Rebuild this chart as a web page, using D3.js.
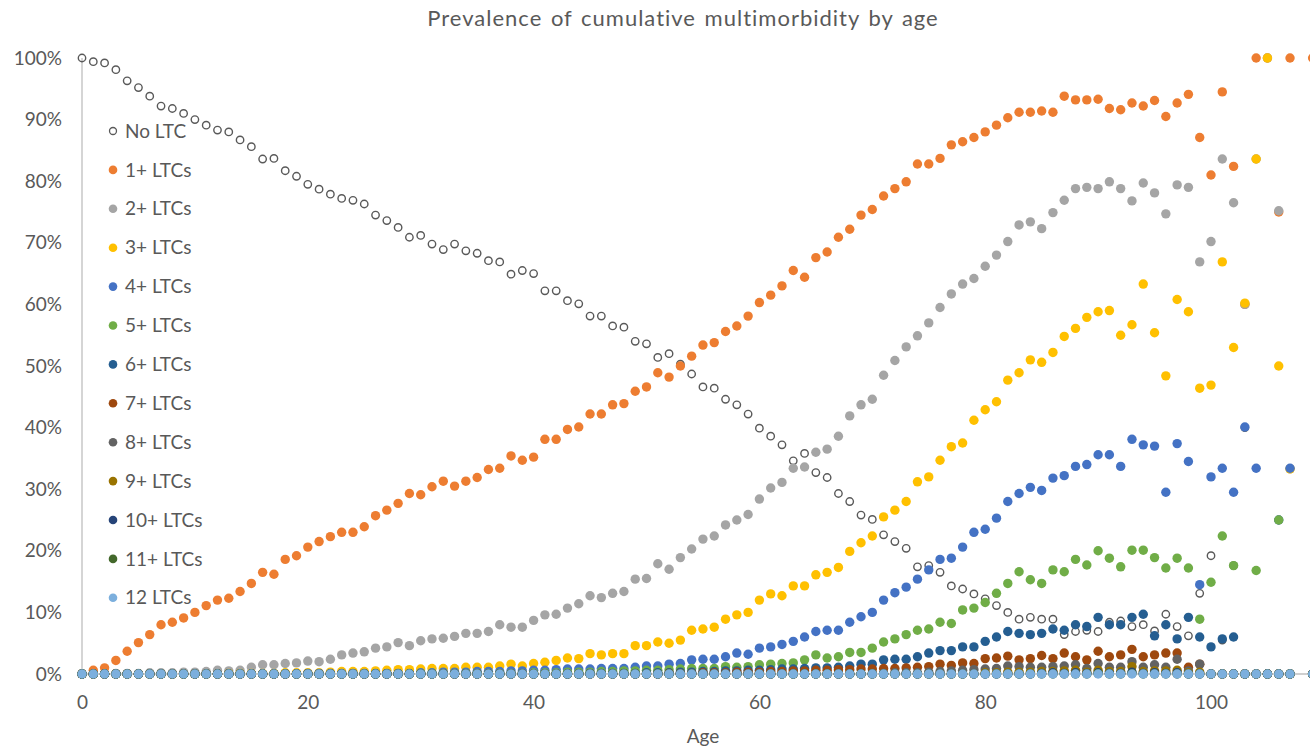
<!DOCTYPE html>
<html>
<head>
<meta charset="utf-8">
<script src="https://cdn.jsdelivr.net/npm/d3@7"></script>
<style>
  body { margin: 0; background: #fff; }
  svg text { font-family: Lato, "Open Sans", sans-serif; fill: #595959; }
</style>
</head>
<body>
<div id="chart"></div>
<script>
// ages on the x axis (no point at 108)
const ages = [
  0, 1, 2, 3, 4, 5, 6, 7, 8, 9,
  10, 11, 12, 13, 14, 15, 16, 17, 18, 19,
  20, 21, 22, 23, 24, 25, 26, 27, 28, 29,
  30, 31, 32, 33, 34, 35, 36, 37, 38, 39,
  40, 41, 42, 43, 44, 45, 46, 47, 48, 49,
  50, 51, 52, 53, 54, 55, 56, 57, 58, 59,
  60, 61, 62, 63, 64, 65, 66, 67, 68, 69,
  70, 71, 72, 73, 74, 75, 76, 77, 78, 79,
  80, 81, 82, 83, 84, 85, 86, 87, 88, 89,
  90, 91, 92, 93, 94, 95, 96, 97, 98, 99,
  100, 101, 102, 103, 104, 105, 106, 107, 109
];

// prevalence in %, one value per age
const noLTC = [
  100, 99.4, 99.2, 98.1, 96.3, 95.2, 93.8, 92.2, 91.8, 91.0,
  90.0, 89.1, 88.3, 88.0, 86.7, 85.6, 83.6, 83.7, 81.7, 80.8,
  79.5, 78.7, 77.9, 77.2, 76.9, 76.3, 74.5, 73.6, 72.5, 70.9,
  71.2, 69.8, 68.9, 69.8, 68.7, 68.3, 67.1, 66.9, 64.9, 65.5,
  65.0, 62.2, 62.2, 60.6, 60.1, 58.1, 58.1, 56.5, 56.3, 54.0,
  53.6, 51.4, 52.0, 50.3, 48.7, 46.6, 46.4, 44.6, 43.7, 42.2,
  39.9, 38.6, 37.2, 34.6, 35.8, 32.7, 31.9, 29.3, 28.0, 25.8,
  25.1, 22.6, 21.5, 20.4, 17.4, 17.6, 16.5, 14.3, 13.8, 13.0,
  12.2, 11.1, 10.0, 8.9, 9.2, 8.9, 8.9, 6.4, 6.9, 7.1,
  6.9, 8.4, 8.6, 7.7, 8.0, 7.0, 9.7, 7.7, 6.2, 13.1,
  19.2, 5.5, 17.6, 40.0, 0, 0, 25.0, 0, 0
];
const ltc1 = [
  0, 0.6, 1.0, 2.2, 3.7, 5.1, 6.4, 8.0, 8.4, 9.1,
  10.0, 11.1, 12.0, 12.3, 13.4, 14.7, 16.5, 16.2, 18.6, 19.2,
  20.6, 21.5, 22.3, 23.0, 23.0, 23.9, 25.7, 26.6, 27.7, 29.3,
  29.1, 30.4, 31.3, 30.5, 31.3, 31.9, 33.2, 33.4, 35.4, 34.7,
  35.2, 38.1, 38.1, 39.7, 40.1, 42.2, 42.2, 43.7, 43.9, 45.9,
  46.6, 48.9, 48.2, 50.0, 51.6, 53.4, 53.8, 55.6, 56.5, 58.1,
  60.3, 61.5, 63.0, 65.5, 64.4, 67.6, 68.5, 70.9, 72.2, 74.5,
  75.4, 77.6, 78.8, 79.9, 82.8, 82.8, 83.7, 85.9, 86.4, 87.1,
  88.0, 89.1, 90.3, 91.2, 91.2, 91.4, 91.2, 93.8, 93.2, 93.2,
  93.3, 91.8, 91.6, 92.7, 92.2, 93.1, 90.5, 92.7, 94.1, 87.1,
  81.0, 94.5, 82.4, 60.0, 100, 100, 75.0, 100, 100
];
const ltc2 = [
  0, 0, 0, 0.1, 0.1, 0.1, 0.2, 0.2, 0.2, 0.3,
  0.3, 0.4, 0.6, 0.5, 0.6, 1.1, 1.5, 1.5, 1.7, 1.8,
  2.1, 2.0, 2.4, 3.1, 3.4, 3.6, 4.2, 4.4, 5.1, 4.6,
  5.4, 5.7, 5.8, 6.1, 6.6, 6.6, 6.9, 8.0, 7.6, 7.6,
  8.7, 9.6, 9.7, 10.7, 11.4, 12.7, 12.4, 13.1, 13.4, 15.4,
  15.5, 17.9, 17.0, 18.9, 20.3, 21.9, 22.4, 24.2, 25.0, 25.9,
  28.4, 30.2, 31.1, 33.4, 33.6, 36.0, 36.5, 38.6, 41.9, 43.7,
  44.6, 48.5, 50.9, 53.1, 54.9, 57.0, 59.5, 61.7, 63.3, 64.2,
  66.2, 68.0, 70.2, 72.9, 73.4, 72.3, 74.9, 76.9, 78.8, 79.0,
  78.8, 79.9, 78.8, 76.8, 79.7, 78.1, 74.7, 79.4, 79.0, 66.9,
  70.2, 83.6, 76.5, 60.0, 83.6, 100, 75.2, 33.3, 0
];
const ltc3 = [
  0, 0, 0, 0, 0, 0, 0, 0, 0, 0,
  0, 0, 0, 0.1, 0.1, 0.1, 0.1, 0.1, 0.2, 0.2,
  0.2, 0.2, 0.3, 0.4, 0.4, 0.4, 0.5, 0.6, 0.7, 0.7,
  0.8, 0.9, 0.9, 0.9, 1.1, 1.1, 1.1, 1.3, 1.6, 1.3,
  1.7, 1.9, 2.2, 2.6, 2.5, 3.3, 3.1, 3.3, 3.3, 4.6,
  4.6, 5.2, 5.0, 5.5, 7.1, 7.3, 7.6, 8.9, 9.6, 10.0,
  12.0, 13.0, 12.7, 14.3, 14.3, 16.1, 16.5, 17.3, 19.9, 21.3,
  22.4, 25.5, 26.6, 28.0, 31.2, 32.0, 34.7, 36.9, 37.5, 41.2,
  42.9, 44.2, 47.7, 48.9, 51.0, 50.6, 52.2, 54.8, 56.1, 57.9,
  58.8, 59.0, 55.0, 56.7, 63.3, 55.4, 48.4, 60.8, 58.8, 46.4,
  46.9, 66.9, 53.0, 60.2, 83.6, 100, 50.0, 33.3, 0
];
const ltc4 = [
  0, 0, 0, 0, 0, 0, 0, 0, 0, 0,
  0, 0, 0, 0, 0, 0, 0, 0, 0, 0,
  0.1, 0.1, 0.1, 0.1, 0.1, 0.1, 0.1, 0.1, 0.1, 0.1,
  0.2, 0.2, 0.3, 0.3, 0.3, 0.4, 0.4, 0.4, 0.5, 0.5,
  0.6, 0.6, 0.7, 0.8, 0.8, 0.8, 0.9, 0.9, 0.9, 1.1,
  1.3, 1.3, 1.6, 1.7, 2.3, 2.4, 2.4, 2.8, 3.4, 3.2,
  4.2, 4.4, 4.8, 5.3, 6.0, 6.9, 7.1, 7.1, 8.4, 9.3,
  10.0, 12.0, 13.2, 14.1, 15.4, 16.9, 18.6, 18.8, 20.6, 23.0,
  23.5, 25.3, 28.0, 29.3, 30.3, 29.8, 31.8, 32.2, 33.7, 34.0,
  35.6, 35.6, 33.7, 38.1, 37.2, 37.0, 29.5, 37.4, 34.5, 14.5,
  32.0, 33.4, 29.5, 40.1, 33.4, 0, 25.0, 33.4, 0
];
const ltc5 = [
  0, 0, 0, 0, 0, 0, 0, 0, 0, 0,
  0, 0, 0, 0, 0, 0, 0, 0, 0, 0,
  0, 0, 0, 0, 0, 0, 0, 0, 0, 0,
  0.1, 0.1, 0.1, 0.1, 0.1, 0.1, 0.1, 0.1, 0.1, 0.1,
  0.2, 0.2, 0.2, 0.3, 0.3, 0.3, 0.4, 0.4, 0.5, 0.5,
  0.6, 0.6, 0.7, 0.8, 0.9, 0.9, 0.9, 1.2, 1.1, 1.2,
  1.5, 1.6, 1.7, 1.8, 2.3, 3.1, 2.6, 2.8, 3.5, 3.5,
  4.2, 5.2, 5.7, 6.4, 7.1, 7.3, 8.4, 8.2, 10.4, 10.7,
  11.6, 13.1, 14.7, 16.6, 15.3, 14.7, 16.9, 16.6, 18.6, 17.7,
  20.0, 18.8, 17.4, 20.1, 20.1, 18.9, 17.2, 18.8, 17.2, 8.9,
  14.9, 22.4, 17.6, 0, 16.8, 0, 25.0, 0, 0
];
const ltc6 = [
  0, 0, 0, 0, 0, 0, 0, 0, 0, 0,
  0, 0, 0, 0, 0, 0, 0, 0, 0, 0,
  0, 0, 0, 0, 0, 0, 0, 0, 0, 0,
  0, 0, 0, 0, 0, 0, 0, 0, 0, 0,
  0, 0, 0, 0, 0, 0.1, 0.1, 0.1, 0.1, 0.1,
  0.2, 0.2, 0.2, 0.3, 0.3, 0.4, 0.4, 0.5, 0.5, 0.6,
  0.6, 0.7, 0.8, 0.8, 0.9, 1.0, 1.0, 1.1, 1.3, 1.6,
  1.6, 2.3, 2.4, 2.4, 2.8, 3.4, 3.8, 3.8, 4.4, 4.4,
  5.3, 6.0, 6.9, 6.6, 6.4, 6.6, 7.3, 7.1, 8.0, 7.7,
  9.2, 8.0, 8.0, 9.2, 9.7, 6.2, 8.0, 5.7, 9.2, 6.0,
  4.4, 5.7, 6.0, 0, 0, 0, 0, 0, 0
];
const ltc7 = [
  0, 0, 0, 0, 0, 0, 0, 0, 0, 0,
  0, 0, 0, 0, 0, 0, 0, 0, 0, 0,
  0, 0, 0, 0, 0, 0, 0, 0, 0, 0,
  0, 0, 0, 0, 0, 0, 0, 0, 0, 0,
  0, 0, 0, 0, 0, 0, 0, 0, 0, 0,
  0, 0, 0.1, 0.1, 0.1, 0.2, 0.2, 0.2, 0.3, 0.3,
  0.3, 0.4, 0.4, 0.5, 0.5, 0.6, 0.6, 0.7, 0.7, 0.8,
  0.8, 0.9, 0.9, 1.0, 1.1, 1.2, 1.6, 1.4, 1.8, 1.7,
  2.5, 2.6, 2.9, 2.3, 2.5, 3.0, 2.5, 3.4, 2.8, 2.3,
  3.7, 2.8, 3.1, 4.0, 2.8, 3.1, 3.4, 3.4, 1.1, 1.6,
  0, 0, 0, 0, 0, 0, 0, 0, 0
];
const ltc8 = [
  0, 0, 0, 0, 0, 0, 0, 0, 0, 0,
  0, 0, 0, 0, 0, 0, 0, 0, 0, 0,
  0, 0, 0, 0, 0, 0, 0, 0, 0, 0,
  0, 0, 0, 0, 0, 0, 0, 0, 0, 0,
  0, 0, 0, 0, 0, 0, 0, 0, 0, 0,
  0, 0, 0, 0, 0, 0, 0, 0, 0, 0,
  0, 0, 0, 0, 0, 0, 0, 0, 0, 0,
  0.1, 0.1, 0.2, 0.2, 0.2, 0.3, 0.4, 0.5, 0.6, 0.7,
  0.8, 0.9, 1.3, 1.2, 1.1, 1.1, 1.2, 1.3, 1.5, 0.9,
  1.7, 1.1, 1.1, 2.0, 1.1, 1.5, 1.1, 2.4, 0.5, 1.6,
  0, 0, 0, 0, 0, 0, 0, 0, 0
];
const ltc9 = [
  0, 0, 0, 0, 0, 0, 0, 0, 0, 0,
  0, 0, 0, 0, 0, 0, 0, 0, 0, 0,
  0, 0, 0, 0, 0, 0, 0, 0, 0, 0,
  0, 0, 0, 0, 0, 0, 0, 0, 0, 0,
  0, 0, 0, 0, 0, 0, 0, 0, 0, 0,
  0, 0, 0, 0, 0, 0, 0, 0, 0, 0,
  0, 0, 0, 0, 0, 0, 0, 0, 0, 0,
  0, 0, 0, 0, 0, 0, 0, 0, 0, 0,
  0.2, 0.2, 0.3, 0.3, 0.3, 0.4, 0.4, 0.5, 0.6, 0.3,
  0.6, 0.4, 0.4, 1.2, 0.4, 0.5, 0.5, 0.6, 0.2, 0.3,
  0, 0, 0, 0, 0, 0, 0, 0, 0
];
const ltc10 = [
  0, 0, 0, 0, 0, 0, 0, 0, 0, 0,
  0, 0, 0, 0, 0, 0, 0, 0, 0, 0,
  0, 0, 0, 0, 0, 0, 0, 0, 0, 0,
  0, 0, 0, 0, 0, 0, 0, 0, 0, 0,
  0, 0, 0, 0, 0, 0, 0, 0, 0, 0,
  0, 0, 0, 0, 0, 0, 0, 0, 0, 0,
  0, 0, 0, 0, 0, 0, 0, 0, 0, 0,
  0, 0, 0, 0, 0, 0, 0, 0, 0, 0,
  0, 0, 0, 0, 0, 0.1, 0.2, 0.1, 0.2, 0.1,
  0.2, 0.1, 0.1, 0.3, 0.1, 0.2, 0.1, 0.2, 0, 0,
  0, 0, 0, 0, 0, 0, 0, 0, 0
];
const ltc11 = [
  0, 0, 0, 0, 0, 0, 0, 0, 0, 0,
  0, 0, 0, 0, 0, 0, 0, 0, 0, 0,
  0, 0, 0, 0, 0, 0, 0, 0, 0, 0,
  0, 0, 0, 0, 0, 0, 0, 0, 0, 0,
  0, 0, 0, 0, 0, 0, 0, 0, 0, 0,
  0, 0, 0, 0, 0, 0, 0, 0, 0, 0,
  0, 0, 0, 0, 0, 0, 0, 0, 0, 0,
  0, 0, 0, 0, 0, 0, 0, 0, 0, 0,
  0, 0, 0, 0, 0, 0, 0, 0, 0, 0,
  0.1, 0, 0, 0.1, 0, 0, 0, 0, 0, 0,
  0, 0, 0, 0, 0, 0, 0, 0, 0
];
const ltc12 = [
  0, 0, 0, 0, 0, 0, 0, 0, 0, 0,
  0, 0, 0, 0, 0, 0, 0, 0, 0, 0,
  0, 0, 0, 0, 0, 0, 0, 0, 0, 0,
  0, 0, 0, 0, 0, 0, 0, 0, 0, 0,
  0, 0, 0, 0, 0, 0, 0, 0, 0, 0,
  0, 0, 0, 0, 0, 0, 0, 0, 0, 0,
  0, 0, 0, 0, 0, 0, 0, 0, 0, 0,
  0, 0, 0, 0, 0, 0, 0, 0, 0, 0,
  0, 0, 0, 0, 0, 0, 0, 0, 0, 0,
  0, 0, 0, 0, 0, 0, 0, 0, 0, 0,
  0, 0, 0, 0, 0, 0, 0, 0, 0
];

const seriesNames = ["No LTC", "1+ LTCs", "2+ LTCs", "3+ LTCs", "4+ LTCs", "5+ LTCs", "6+ LTCs",
  "7+ LTCs", "8+ LTCs", "9+ LTCs", "10+ LTCs", "11+ LTCs", "12 LTCs"];
const seriesValues = [noLTC, ltc1, ltc2, ltc3, ltc4, ltc5, ltc6, ltc7, ltc8, ltc9, ltc10, ltc11, ltc12];
const seriesColors = ["#595959", "#ED7D31", "#A5A5A5", "#FFC000", "#4472C4", "#70AD47", "#255E91",
  "#9E480E", "#636363", "#997300", "#264478", "#43682B", "#7CAFDD"];
const xTicks = [0, 20, 40, 60, 80, 100];
const yTicks = [0, 10, 20, 30, 40, 50, 60, 70, 80, 90, 100];

const series = seriesNames.map((name, i) => ({
  name: name,
  color: seriesColors[i],
  hollow: i === 0,
  points: ages.map((a, j) => ({ age: a, value: seriesValues[i][j] }))
}));

// dimensions
const dim = {
  width: 1310,
  height: 752,
  margin: { top: 58, left: 82, bottom: 78 },
  pxPerYear: 11.29
};
dim.plotHeight = dim.height - dim.margin.top - dim.margin.bottom;

const svg = d3.select("#chart")
  .append("svg")
  .attr("width", dim.width)
  .attr("height", dim.height);

// the plot area runs past the right edge of the picture
const xScale = d3.scaleLinear()
  .domain([0, 120])
  .range([dim.margin.left, dim.margin.left + 120 * dim.pxPerYear]);

const yScale = d3.scaleLinear()
  .domain([0, 100])
  .range([dim.margin.top + dim.plotHeight, dim.margin.top]);

// title
svg.append("text")
  .attr("x", 683)
  .attr("y", 26)
  .attr("text-anchor", "middle")
  .style("font-size", "22px")
  .style("letter-spacing", "1px")
  .style("word-spacing", "2px")
  .text("Prevalence of cumulative multimorbidity by age");

// axes
const yAxis = svg.append("g")
  .attr("transform", `translate(${dim.margin.left},0)`)
  .call(d3.axisLeft(yScale).tickValues(yTicks).tickSize(0).tickPadding(20).tickFormat(d => d + "%"));
yAxis.select(".domain").remove();
yAxis.selectAll("text").style("font-size", "19px");

const xAxis = svg.append("g")
  .attr("transform", `translate(0,${yScale(0)})`)
  .call(d3.axisBottom(xScale).tickValues(xTicks).tickSize(0).tickPadding(22));
xAxis.select(".domain").remove();
xAxis.selectAll("text").style("font-size", "19px");

svg.append("line")
  .attr("x1", xScale(0)).attr("x2", xScale(0))
  .attr("y1", yScale(100)).attr("y2", yScale(0))
  .attr("stroke", "#BFBFBF")
  .attr("stroke-width", 1.3);

svg.append("line")
  .attr("x1", xScale(0)).attr("x2", dim.width)
  .attr("y1", yScale(0)).attr("y2", yScale(0))
  .attr("stroke", "#BFBFBF")
  .attr("stroke-width", 1.3);

svg.append("text")
  .attr("x", 703)
  .attr("y", 743)
  .attr("text-anchor", "middle")
  .style("font-size", "19px")
  .text("Age");

// points, first series at the bottom
const groups = svg.selectAll("g.series")
  .data(series)
  .enter().append("g")
    .attr("class", "series");

groups.selectAll("circle")
  .data(d => d.points.map(p => ({ ...p, s: d })))
  .enter().append("circle")
    .attr("cx", d => xScale(d.age))
    .attr("cy", d => yScale(d.value))
    .attr("r", d => d.s.hollow ? 3.7 : 4.7)
    .attr("fill", d => d.s.hollow ? "none" : d.s.color)
    .attr("stroke", d => d.s.hollow ? d.s.color : "none")
    .attr("stroke-width", d => d.s.hollow ? 1.4 : 0);

// legend
const legend = svg.append("g")
  .selectAll("g")
  .data(series)
  .enter().append("g")
    .attr("transform", (d, i) => `translate(113,${131 + i * 38.9})`);

legend.append("circle")
  .attr("r", d => d.hollow ? 3.5 : 4.3)
  .attr("fill", d => d.hollow ? "#fff" : d.color)
  .attr("stroke", d => d.hollow ? d.color : "none")
  .attr("stroke-width", 1.3);

legend.append("text")
  .attr("x", 12)
  .attr("dy", "0.35em")
  .style("font-size", "19px")
  .text(d => d.name);
</script>
</body>
</html>
